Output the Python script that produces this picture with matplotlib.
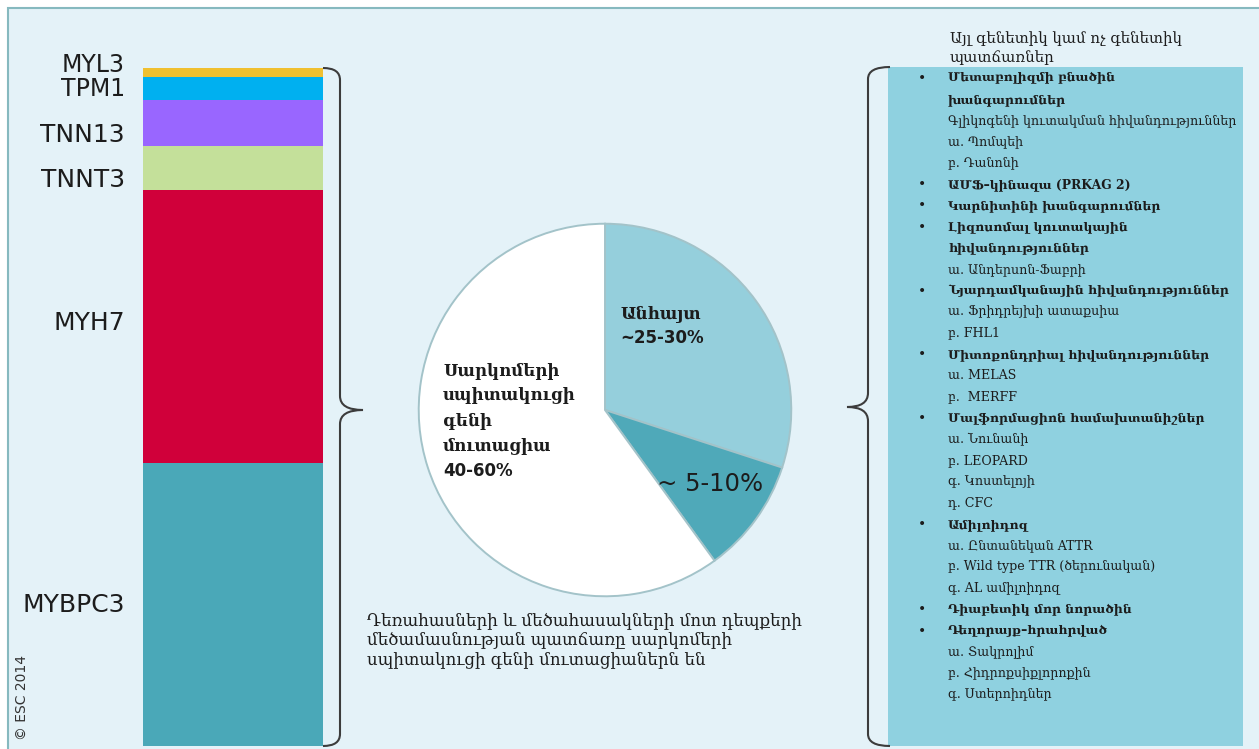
import matplotlib
matplotlib.use("Agg")
import matplotlib.pyplot as plt
from matplotlib.patches import Rectangle, PathPatch
from matplotlib.path import Path

# stacked bar: sarcomere genes, bottom to top
genes = ['MYBPC3', 'MYH7', 'TNNT3', 'TNN13', 'TPM1', 'MYL3']
gene_share = [41.7, 40.3, 6.5, 6.8, 3.4, 1.3]
gene_colors = ['#4aa8b8', '#d0003a', '#c4e09a', '#9966ff', '#00b0f0', '#f0c030']
label_shift = [0, 4, -12, -12, -1, 7]   # pixels, up positive

# pie: causes
pie_names = ['Անհայտ\n~25-30%', '~ 5-10%',
             'Սարկոմերի\nսպիտակուցի\nգենի\nմուտացիա\n40-60%']
pie_values = [30, 10, 60]
pie_colors = ['#95cfdc', '#4fa9b9', '#ffffff']

panel_title = 'Այլ գենետիկ կամ ոչ գենետիկ\nպատճառներ'
# (text, bold, bullet)
other_causes = [
    ('Մետաբոլիզմի բնածին', True, True),
    ('խանգարումներ', True, False),
    ('Գլիկոգենի կուտակման հիվանդություններ', False, False),
    ('ա. Պոմպեի', False, False),
    ('բ. Դանոնի', False, False),
    ('ԱՄՖ–կինազա (PRKAG 2)', True, True),
    ('Կարնիտինի խանգարումներ', True, True),
    ('Լիզոսոմալ կուտակային', True, True),
    ('հիվանդություններ', True, False),
    ('ա. Անդերսոն-Ֆաբրի', False, False),
    ('Նյարդամկանային հիվանդություններ', True, True),
    ('ա. Ֆրիդրեյխի ատաքսիա', False, False),
    ('բ. FHL1', False, False),
    ('Միտոքոնդրիալ հիվանդություններ', True, True),
    ('ա. MELAS', False, False),
    ('բ.  MERFF', False, False),
    ('Մալֆորմացիոն համախտանիշներ', True, True),
    ('ա. Նունանի', False, False),
    ('բ. LEOPARD', False, False),
    ('գ. Կոստելոյի', False, False),
    ('դ. CFC', False, False),
    ('Ամիլոիդոզ', True, True),
    ('ա. Ընտանեկան ATTR', False, False),
    ('բ. Wild type TTR (ծերունական)', False, False),
    ('գ. AL ամիլոիդոզ', False, False),
    ('Դիաբետիկ մոր նորածին', True, True),
    ('Դեղորայք–հրահրված', True, True),
    ('ա. Տակրոլիմ', False, False),
    ('բ. Հիդրոքսիքլորոքին', False, False),
    ('գ. Ստերոիդներ', False, False),
]
caption = ('Դեռահասների և մեծահասակների մոտ դեպքերի\n'
           'մեծամասնության պատճառը սարկոմերի\n'
           'սպիտակուցի գենի մուտացիաներն են')

W, H = 1259, 749
serif = ['DejaVu Serif', 'DejaVu Sans']
ink = '#1c1c1c'

fig = plt.figure(figsize=(W / 100, H / 100), dpi=100, facecolor='white')

# background axes in pixel coordinates
bg = fig.add_axes([0, 0, 1, 1])
bg.set_xlim(0, W)
bg.set_ylim(H, 0)
bg.axis('off')
bg.add_patch(Rectangle((8, 8), W, H, facecolor='#e4f2f8', edgecolor='#86b9bf', lw=1.5))
bg.add_patch(Rectangle((888, 67), 355, 679, facecolor='#8fd1e0', edgecolor='none'))


def brace(x0, xv, xt, y0, y1, ym):
    # x0: end of hooks, xv: vertical line, xt: tip
    verts = [(x0, y0), (xv, y0), (xv, y0 + 12),
             (xv, ym - 14), (xv, ym), (xt, ym),
             (xv, ym), (xv, ym + 14),
             (xv, y1 - 12), (xv, y1), (x0, y1)]
    codes = [Path.MOVETO, Path.CURVE3, Path.CURVE3,
             Path.LINETO, Path.CURVE3, Path.CURVE3,
             Path.CURVE3, Path.CURVE3,
             Path.LINETO, Path.CURVE3, Path.CURVE3]
    bg.add_patch(PathPatch(Path(verts, codes), fill=False, edgecolor='#3c3c3c', lw=1.5))


brace(323, 340, 363, 68, 746, 410)
brace(890, 868, 847, 67, 746, 407)

# stacked bar
ax = fig.add_axes([143 / W, 1 - 746 / H, 180 / W, (746 - 68) / H])
bottom = 0
for name, val, col, dy in zip(genes, gene_share, gene_colors, label_shift):
    ax.bar(0, val, bottom=bottom, width=1, color=col, edgecolor='none')
    ax.annotate(name, xy=(-0.5, bottom + val / 2), xytext=(-18, dy),
                textcoords='offset pixels', ha='right', va='center',
                fontsize=18 if val > 5 else 17, color=ink, family='DejaVu Sans')
    bottom += val
ax.set_xlim(-0.5, 0.5)
ax.set_ylim(0, bottom)
ax.axis('off')

# pie
pax = fig.add_axes([415 / W, 1 - 600 / H, 380 / W, 380 / H])
pax.pie(pie_values, colors=pie_colors, startangle=90, counterclock=False,
        radius=1, wedgeprops=dict(edgecolor='#a3c3c9', linewidth=1.4))
pax.set_xlim(-1.02, 1.02)
pax.set_ylim(-1.02, 1.02)

# pie labels, placed in figure pixels on top of the pie
px = bg.transData
first, pct = pie_names[0].split('\n')
pax.text(620, 314, first, fontsize=12, fontweight='bold', family=serif,
         color=ink, va='center', transform=px)
pax.text(620, 338, pct, fontsize=12, fontweight='bold', family='DejaVu Sans',
         color=ink, va='center', transform=px)
pax.text(657, 484, pie_names[1], fontsize=17.5, family='DejaVu Sans', color=ink,
         va='center', transform=px)
for i, line in enumerate(pie_names[2].split('\n')):
    pax.text(443, 371 + 25 * i, line, fontsize=12, fontweight='bold',
             family=serif if i < 4 else 'DejaVu Sans', color=ink, va='center',
             transform=px)

bg.text(367, 641, caption, fontsize=12, family=serif, color=ink,
        va='center', linespacing=1.15)

bg.text(950, 48, panel_title, fontsize=10.8, family=serif, color=ink,
        va='center', linespacing=1.3)
for i, (txt, bold, bullet) in enumerate(other_causes):
    y = 78 + 21.25 * i
    if bullet:
        bg.text(918, y, '•', fontsize=10, color=ink, va='center', family='DejaVu Sans')
    bg.text(948, y, txt, fontsize=8.9 if bold else 9.1,
            fontweight='bold' if bold else 'normal',
            family=serif, color=ink, va='center')

bg.text(22, 698, '© ESC 2014', rotation=90, fontsize=10, color='#333333',
        ha='center', va='center', family='DejaVu Sans')

fig.savefig('out.png', dpi=100, facecolor=fig.get_facecolor())
